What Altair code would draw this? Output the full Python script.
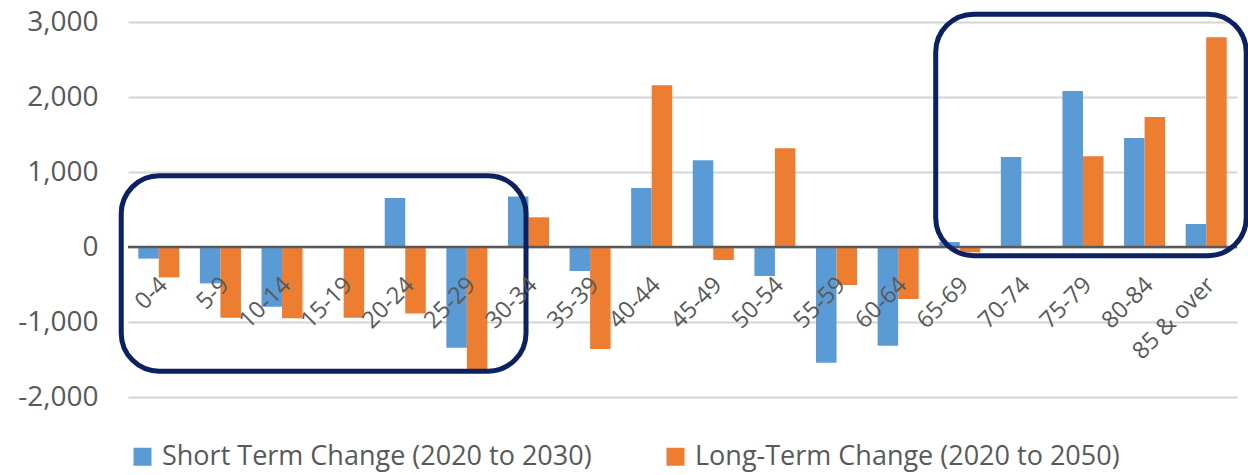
import altair as alt
import pandas as pd

# Age groups and projected population change per group
categories = ["0-4", "5-9", "10-14", "15-19", "20-24", "25-29", "30-34", "35-39",
              "40-44", "45-49", "50-54", "55-59", "60-64", "65-69", "70-74",
              "75-79", "80-84", "85 & over"]
short_term = [-155, -485, -795, 0, 653, -1343, 675, -320, 787, 1156, -387,
              -1543, -1316, 67, 1200, 2080, 1453, 307]
long_term = [-405, -943, -950, -943, -885, -1631, 396, -1360, 2156, -173, 1316,
             -507, -693, -71, -15, 1209, 1733, 2796]

series_names = ["Short Term Change (2020 to 2030)", "Long-Term Change (2020 to 2050)"]
series_colors = ["#5B9BD5", "#ED7D31"]

# Highlight frames: x in age-group slots (0 = left edge of "0-4"), y in people
box_left = [-0.11, 13.11]
box_right = [6.46, 18.15]
box_top = [950, 3105]
box_bottom = [-1655, -115]

y_ticks = [-2000, -1000, 0, 1000, 2000, 3000]

rows = []
for age, s, l in zip(categories, short_term, long_term):
    rows.append({"age": age, "series": series_names[0], "change": s})
    rows.append({"age": age, "series": series_names[1], "change": l})
bars_df = pd.DataFrame(rows)
boxes_df = pd.DataFrame({"x0": box_left, "x1": box_right, "y0": box_top, "y1": box_bottom})
zero_df = pd.DataFrame({"change": [0]})

FONT = "Open Sans"
TEXT = "#595959"

y_scale = alt.Scale(domain=[-2000, 3000], nice=False, zero=False)
y_axis = alt.Axis(
    title=None,
    values=y_ticks,
    labelExpr="replace(format(datum.value, ','), '\u2212', '-')",
    labelFont=FONT, labelFontSize=28, labelColor=TEXT,
    labelPadding=30, ticks=False, domain=False,
    grid=True, gridColor="#d4d4d4", gridWidth=2, zindex=0,
)

bars = alt.Chart(bars_df).mark_bar().encode(
    x=alt.X(
        "age:N", sort=categories,
        scale=alt.Scale(paddingInner=0.334, paddingOuter=0.167),
        axis=alt.Axis(
            title=None, offset=-150, domain=False, ticks=False, tickSize=0,
            grid=False, labelAngle=315, labelAlign="right", labelBaseline="middle",
            labelPadding=34, labelOffset=5, labelFont=FONT, labelFontSize=23.5,
            labelColor=TEXT, labelOverlap=False, labelBound=False, zindex=1,
        ),
    ),
    xOffset=alt.XOffset("series:N", sort=series_names,
                        scale=alt.Scale(paddingInner=0, paddingOuter=0)),
    y=alt.Y("change:Q", scale=y_scale, axis=y_axis),
    color=alt.Color(
        "series:N", sort=series_names,
        scale=alt.Scale(domain=series_names, range=series_colors),
        legend=alt.Legend(
            title=None, orient="none", direction="horizontal",
            legendX=1, legendY=421, padding=0,
            symbolType="square", symbolSize=324, symbolStrokeWidth=0,
            labelFont=FONT, labelFontSize=27, labelColor=TEXT,
            labelOffset=6, columnPadding=70, labelLimit=0,
        ),
    ),
)

zero_line = alt.Chart(zero_df).mark_rule(color="#595959", strokeWidth=2.5).encode(
    y=alt.Y("change:Q", scale=y_scale, axis=y_axis)
)

frames = alt.Chart(boxes_df).mark_rect(
    filled=False, stroke="#0B2161", strokeWidth=5, cornerRadius=38
).encode(
    x=alt.X("x0:Q", scale=alt.Scale(domain=[0, 18], nice=False, zero=False), axis=None),
    x2="x1:Q",
    y=alt.Y("y0:Q", scale=y_scale, axis=y_axis),
    y2="y1:Q",
)

chart = (
    alt.layer(bars, zero_line, frames)
    .resolve_scale(x="independent")
    .properties(
        width=1109, height=375,
        autosize=alt.AutoSizeParams(type="none"),
        padding={"left": 128, "top": 22, "right": 11, "bottom": 78},
        background="white",
    )
    .configure_view(stroke=None)
)

chart.save("out.html", embed_options={"renderer": "svg", "actions": False})
